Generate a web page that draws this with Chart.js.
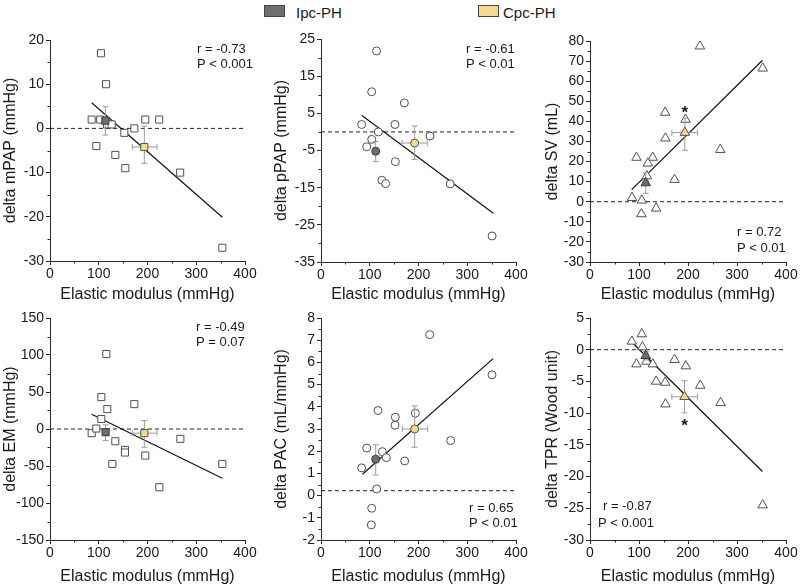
<!DOCTYPE html>
<html><head><meta charset="utf-8">
<script src="https://cdn.jsdelivr.net/npm/chart.js@4.4.1/dist/chart.umd.min.js"></script>
<style>
html,body{margin:0;padding:0;background:#fff;}
#wrap{position:relative;width:800px;height:587px;overflow:hidden;background:#fff;font-family:"Liberation Sans",Arial,sans-serif;}
canvas{position:absolute;}
.lg{position:absolute;top:4.5px;font-size:15px;line-height:15px;color:#1a1a1a;white-space:nowrap}
.box{position:absolute;width:21px;height:12px;top:5px;border:1px solid #444;box-sizing:border-box}
</style></head><body>
<div id="wrap">
 <div class="box" style="left:264px;background:#6f6f6f"></div>
 <div class="lg" id="lg1" style="left:296px"></div>
 <div class="box" style="left:478px;background:#f8d88a"></div>
 <div class="lg" id="lg2" style="left:503px"></div>
 <canvas id="c1" width="270" height="290" style="left:0px;top:20px"></canvas>
 <canvas id="c2" width="268" height="290" style="left:271px;top:20px"></canvas>
 <canvas id="c3" width="258" height="290" style="left:542px;top:20px"></canvas>
 <canvas id="c4" width="270" height="287" style="left:0px;top:300px"></canvas>
 <canvas id="c5" width="268" height="287" style="left:271px;top:300px"></canvas>
 <canvas id="c6" width="258" height="287" style="left:542px;top:300px"></canvas>
</div>
<script>
// ================= DATA =================
const groups = ['Ipc-PH', 'Cpc-PH'];
const xTitle = 'Elastic modulus (mmHg)';
const elasticTicks = [0, 100, 200, 300, 400];

// delta mPAP
const mpapX = [85.5, 103, 104.6, 115, 117, 126.5, 152.5, 173, 195.5, 224, 95, 134, 154.5, 267, 353.5];
const mpapY = [2, 2, 17, 10, 0.9, 0.9, -1, 0, 2, 2, -4, -6, -9, -10, -27];
const mpapIpc = [113.5, 1.75];
const mpapIpcX = [108, 119];
const mpapIpcY = [-1.5, 4.9];
const mpapCpc = [193.5, -4.2];
const mpapCpcX = [169, 219.5];
const mpapCpcY = [-7.9, 0.5];
const mpapFitX = [85.5, 353.5];
const mpapFitY = [5.8, -20.1];
const mpapTicks = [-30, -20, -10, 0, 10, 20];
const mpapStats = ['r = -0.73', 'P < 0.001'];

// delta pPAP
const ppapX = [83.4, 151.8, 117.6, 223.6, 104, 93.7, 152.5, 125, 132.7, 114, 104, 171, 265, 351];
const ppapY = [2, 2, 0, -1.1, -2, -4, -8, -13, -13.9, 21.8, 10.8, 7.8, -14, -28];
const ppapIpc = [112.2, -5.2];
const ppapIpcX = [107, 117];
const ppapIpcY = [-8.0, -2.6];
const ppapCpc = [192.1, -3.0];
const ppapCpcX = [166, 218];
const ppapCpcY = [-7.4, 1.6];
const ppapFitX = [84, 353.5];
const ppapFitY = [4.4, -21.9];
const ppapTicks = [-35, -25, -15, -5, 5, 15, 25];
const ppapStats = ['r = -0.61', 'P < 0.01'];

// delta SV
const svX = [224.3, 352.4, 153.4, 195, 154, 265.8, 94.8, 128, 118, 116, 172.5, 85.9, 105.7, 135, 105];
const svY = [77.4, 66.4, 44.4, 40.9, 31.6, 25.9, 22, 22, 19.1, 12.8, 11, 2, 0.7, -3.3, -6.1];
const svIpc = [113.8, 9.3];
const svIpcX = [108, 119];
const svIpcY = [4.2, 14.4];
const svCpc = [193.6, 34.4];
const svCpcX = [167, 219.5];
const svCpcY = [25.6, 41.5];
const svFitX = [85, 352];
const svFitY = [6, 70.4];
const svTicks = [-30, -20, -10, 0, 10, 20, 30, 40, 50, 60, 70, 80];
const svStats = ['r = 0.72', 'P < 0.01'];
const svStar = [193.6, 46.8];

// delta EM
const emX = [115.5, 105.3, 117.6, 173, 105.3, 85.5, 95, 134, 153.8, 153.8, 195.5, 127.9, 267.4, 224.3, 353.5];
const emY = [101.3, 43.1, 26.9, 33.6, 13.5, -5.6, 0.6, -16.5, -28.2, -31.8, -35.9, -47.2, -13.3, -78.7, -47.2];
const emIpc = [114, -4.3];
const emIpcX = [108, 120];
const emIpcY = [-15.6, 5.6];
const emCpc = [193.5, -5.6];
const emCpcX = [169, 219.5];
const emCpcY = [-24.6, 11.4];
const emFitX = [85.5, 353.5];
const emFitY = [20, -66.5];
const emTicks = [-150, -100, -50, 0, 50, 100, 150];
const emStats = ['r = -0.49', 'P = 0.07'];

// delta PAC
const pacX = [223, 350.8, 116.9, 152.5, 193.5, 151.8, 266, 93.7, 125.8, 134, 171.6, 83.4, 114.2, 104, 103.2];
const pacY = [7.25, 5.44, 3.83, 3.53, 3.71, 3.17, 2.48, 2.14, 1.98, 1.71, 1.56, 1.25, 0.3, -0.57, -1.32];
const pacIpc = [112.2, 1.64];
const pacIpcX = [107, 117];
const pacIpcY = [0.93, 2.29];
const pacCpc = [192.1, 3.0];
const pacCpcX = [166.8, 218.9];
const pacCpcY = [2.18, 4.04];
const pacFitX = [85, 353];
const pacFitY = [0.96, 6.17];
const pacTicks = [-2, -1, 0, 1, 2, 3, 4, 5, 6, 7, 8];
const pacStats = ['r = 0.65', 'P < 0.01'];
const pacRef = 0.22;

// delta TPR
const tprX = [105.7, 85.3, 107, 94.8, 115.2, 128.2, 172.5, 195.6, 135, 153.4, 225, 154, 266.5, 352.4];
const tprY = [2.47, 1.31, 0.42, -2.27, -1.85, -2.27, -1.58, -2.58, -5.0, -5.17, -5.64, -8.58, -8.37, -24.5];
const tprIpc = [113.8, -0.95];
const tprIpcX = [109, 119];
const tprIpcY = [-1.6, -0.3];
const tprCpc = [192.9, -7.42];
const tprCpcX = [167, 219.5];
const tprCpcY = [-9.95, -4.9];
const tprFitX = [84, 352];
const tprFitY = [1.3, -19.2];
const tprTicks = [-30, -25, -20, -15, -10, -5, 0, 5];
const tprStats = ['r = -0.87', 'P < 0.001'];
const tprStar = [193, -11.3];

// ================= RENDER =================
document.getElementById('lg1').textContent = groups[0];
document.getElementById('lg2').textContent = groups[1];

const FONT = '"Liberation Sans", Arial, sans-serif';
const TXT = '#1a1a1a';
const AX = '#2a2a2a';
const IPC_FILL = '#6f6f6f';
const CPC_FILL = '#f8d88a';
const ERR = '#9a9a9a';

function pts(xs, ys) { return xs.map((x, i) => ({ x: x, y: ys[i] })); }

const decor = {
  id: 'decor',
  afterDraw(chart, args, o) {
    const ctx = chart.ctx, ca = chart.chartArea, xs = chart.scales.x, ys = chart.scales.y;
    ctx.save();
    ctx.strokeStyle = AX; ctx.lineWidth = 1;
    ctx.beginPath();
    for (let v = xs.min + o.xMinor; v < xs.max; v += 2 * o.xMinor) {
      const px = Math.round(xs.getPixelForValue(v)) + 0.5;
      ctx.moveTo(px, ca.bottom); ctx.lineTo(px, ca.bottom + 2.5);
    }
    for (let v = ys.min + o.yMinor; v < ys.max; v += 2 * o.yMinor) {
      const py = Math.round(ys.getPixelForValue(v)) + 0.5;
      ctx.moveTo(ca.left - 2.5, py); ctx.lineTo(ca.left, py);
    }
    ctx.stroke();
    ctx.fillStyle = TXT;
    ctx.font = '13px ' + FONT;
    ctx.textBaseline = 'middle'; ctx.textAlign = 'left';
    o.stats.forEach((t, i) => ctx.fillText(t, o.statPos[i][0] - o.left, o.statPos[i][1] - o.top));
    if (o.star) {
      ctx.font = 'bold 17px ' + FONT;
      ctx.textAlign = 'center'; ctx.textBaseline = 'alphabetic';
      ctx.fillText('*', xs.getPixelForValue(o.star[0]), ys.getPixelForValue(o.star[1]) + 10);
    }
    ctx.restore();
  }
};

function makePanel(p) {
  const errDs = (data, rot) => ({
    data: data, showLine: true, borderColor: ERR, borderWidth: 1,
    pointStyle: 'line', pointRadius: 3, pointBorderColor: ERR, pointBorderWidth: 1,
    pointRotation: rot, order: 1
  });
  const datasets = [
    { data: [{ x: p.ipc[0], y: p.ipc[1] }], pointStyle: p.marker, pointRadius: p.r,
      pointBackgroundColor: IPC_FILL, pointBorderColor: '#3a3a3a', pointBorderWidth: 1, order: 0 },
    { data: [{ x: p.cpc[0], y: p.cpc[1] }], pointStyle: p.marker, pointRadius: p.r,
      pointBackgroundColor: CPC_FILL, pointBorderColor: '#555', pointBorderWidth: 1, order: 0 },
    errDs([{ x: p.ipc[0], y: p.ipcY[0] }, { x: p.ipc[0], y: p.ipcY[1] }], 0),
    errDs([{ x: p.ipcX[0], y: p.ipc[1] }, { x: p.ipcX[1], y: p.ipc[1] }], 90),
    errDs([{ x: p.cpc[0], y: p.cpcY[0] }, { x: p.cpc[0], y: p.cpcY[1] }], 0),
    errDs([{ x: p.cpcX[0], y: p.cpc[1] }, { x: p.cpcX[1], y: p.cpc[1] }], 90),
    { data: pts(p.x, p.y), pointStyle: p.marker, pointRadius: p.r,
      pointBackgroundColor: '#fff', pointBorderColor: '#505050', pointBorderWidth: 1, order: 2 },
    { data: pts(p.fitX, p.fitY), showLine: true, borderColor: '#111', borderWidth: 1.2,
      pointRadius: 0, order: 3 },
    { data: [{ x: elasticTicks[0], y: p.ref }, { x: elasticTicks[elasticTicks.length - 1], y: p.ref }],
      showLine: true, borderColor: '#222', borderWidth: 1, borderDash: [4, 3], pointRadius: 0, order: 4 }
  ];
  const yt = p.yTicks;
  new Chart(document.getElementById(p.id), {
    type: 'scatter',
    data: { datasets: datasets },
    options: {
      responsive: false, animation: false, events: [],
      layout: { padding: { top: p.padTop, right: p.padRight, left: 0, bottom: 0 } },
      plugins: { legend: { display: false }, tooltip: { enabled: false },
        decor: { xMinor: 50, yMinor: p.yMinor, stats: p.stats, statPos: p.statPos,
                 left: p.left, top: p.top, star: p.star } },
      scales: {
        x: {
          type: 'linear', min: elasticTicks[0], max: elasticTicks[elasticTicks.length - 1],
          afterBuildTicks: s => { s.ticks = elasticTicks.map(v => ({ value: v })); },
          afterFit: s => { s.height = p.xH; },
          ticks: { font: { family: FONT, size: 14 }, color: TXT, padding: 1, maxRotation: 0 },
          grid: { drawOnChartArea: false, drawTicks: true, tickLength: 4, tickColor: AX },
          border: { display: true, color: AX, width: 1 },
          title: { display: true, text: xTitle, font: { family: FONT, size: 16 }, color: TXT,
                   padding: { top: 0, bottom: p.titlePadB } }
        },
        y: {
          type: 'linear', min: yt[0], max: yt[yt.length - 1],
          afterBuildTicks: s => { s.ticks = yt.map(v => ({ value: v })); },
          afterFit: s => { s.width = p.yW; },
          ticks: { font: { family: FONT, size: 14 }, color: TXT, padding: 2 },
          grid: { drawOnChartArea: false, drawTicks: true, tickLength: 4, tickColor: AX },
          border: { display: true, color: AX, width: 1 },
          title: { display: true, text: p.yTitle, font: { family: FONT, size: 16 }, color: TXT,
                   padding: { top: 1.4, bottom: 0 } }
        }
      }
    },
    plugins: [decor]
  });
}

const row1 = { top: 20, titlePadB: 5.4 };
const row2 = { top: 300, titlePadB: 0.4, padTop: 18, xH: 47 };

makePanel({ id: 'c1', left: 0, top: row1.top, padTop: 20, padRight: 25, yW: 50, xH: 49, titlePadB: row1.titlePadB,
  yTitle: 'delta mPAP (mmHg)', yTicks: mpapTicks, yMinor: 5, ref: 0, marker: 'rect', r: 5,
  x: mpapX, y: mpapY, ipc: mpapIpc, ipcX: mpapIpcX, ipcY: mpapIpcY, cpc: mpapCpc, cpcX: mpapCpcX, cpcY: mpapCpcY,
  fitX: mpapFitX, fitY: mpapFitY, stats: mpapStats, statPos: [[197, 49], [197, 64]], star: null });

makePanel({ id: 'c2', left: 271, top: row1.top, padTop: 19, padRight: 23, yW: 50, xH: 48, titlePadB: row1.titlePadB,
  yTitle: 'delta pPAP (mmHg)', yTicks: ppapTicks, yMinor: 5, ref: 0, marker: 'circle', r: 4,
  x: ppapX, y: ppapY, ipc: ppapIpc, ipcX: ppapIpcX, ipcY: ppapIpcY, cpc: ppapCpc, cpcX: ppapCpcX, cpcY: ppapCpcY,
  fitX: ppapFitX, fitY: ppapFitY, stats: ppapStats, statPos: [[466, 49], [466, 64]], star: null });

makePanel({ id: 'c3', left: 542, top: row1.top, padTop: 21, padRight: 14, yW: 48, xH: 48, titlePadB: row1.titlePadB,
  yTitle: 'delta SV (mL)', yTicks: svTicks, yMinor: 5, ref: 0, marker: 'triangle', r: 5.5,
  x: svX, y: svY, ipc: svIpc, ipcX: svIpcX, ipcY: svIpcY, cpc: svCpc, cpcX: svCpcX, cpcY: svCpcY,
  fitX: svFitX, fitY: svFitY, stats: svStats, statPos: [[737, 232], [737, 248]], star: svStar });

makePanel({ id: 'c4', left: 0, top: row2.top, padTop: row2.padTop, padRight: 25, yW: 50, xH: row2.xH, titlePadB: row2.titlePadB,
  yTitle: 'delta EM (mmHg)', yTicks: emTicks, yMinor: 25, ref: 0, marker: 'rect', r: 5,
  x: emX, y: emY, ipc: emIpc, ipcX: emIpcX, ipcY: emIpcY, cpc: emCpc, cpcX: emCpcX, cpcY: emCpcY,
  fitX: emFitX, fitY: emFitY, stats: emStats, statPos: [[196, 327], [196, 342]], star: null });

makePanel({ id: 'c5', left: 271, top: row2.top, padTop: row2.padTop, padRight: 23, yW: 50, xH: row2.xH, titlePadB: row2.titlePadB,
  yTitle: 'delta PAC (mL/mmHg)', yTicks: pacTicks, yMinor: 0.5, ref: pacRef, marker: 'circle', r: 4,
  x: pacX, y: pacY, ipc: pacIpc, ipcX: pacIpcX, ipcY: pacIpcY, cpc: pacCpc, cpcX: pacCpcX, cpcY: pacCpcY,
  fitX: pacFitX, fitY: pacFitY, stats: pacStats, statPos: [[469, 508], [469, 523]], star: null });

makePanel({ id: 'c6', left: 542, top: row2.top, padTop: row2.padTop, padRight: 14, yW: 48, xH: row2.xH, titlePadB: row2.titlePadB,
  yTitle: 'delta TPR (Wood unit)', yTicks: tprTicks, yMinor: 2.5, ref: 0, marker: 'triangle', r: 5.5,
  x: tprX, y: tprY, ipc: tprIpc, ipcX: tprIpcX, ipcY: tprIpcY, cpc: tprCpc, cpcX: tprCpcX, cpcY: tprCpcY,
  fitX: tprFitX, fitY: tprFitY, stats: tprStats, statPos: [[603, 506], [598, 523]], star: tprStar });
</script>
</body></html>
